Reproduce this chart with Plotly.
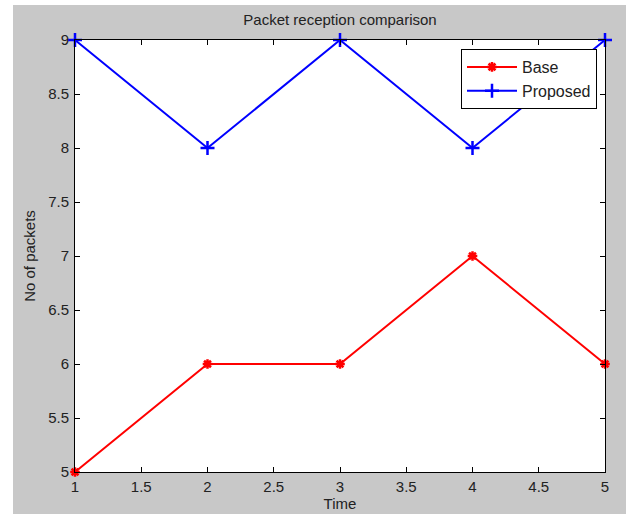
import plotly.graph_objects as go

time = [1, 2, 3, 4, 5]
base = [5, 6, 6, 7, 6]
proposed = [9, 8, 9, 8, 9]
x_ticks = [1, 1.5, 2, 2.5, 3, 3.5, 4, 4.5, 5]
y_ticks = [5, 5.5, 6, 6.5, 7, 7.5, 8, 8.5, 9]

FONT = "Liberation Sans Narrow, Arial Narrow, sans-serif"
GRAY = "#c8c8c8"
TXT = "#222222"

fig = go.Figure()
fig.add_trace(go.Scatter(
    x=time, y=base, name="Base", mode="lines+markers",
    line=dict(color="#ff0000", width=2),
    marker=dict(symbol="asterisk-open", size=8, color="#ff0000",
                line=dict(color="#ff0000", width=2.5)),
    cliponaxis=False,
))
fig.add_trace(go.Scatter(
    x=time, y=proposed, name="Proposed", mode="lines+markers",
    line=dict(color="#0000ff", width=2),
    marker=dict(symbol="cross-thin-open", size=10, color="#0000ff",
                line=dict(color="#0000ff", width=2.5)),
    cliponaxis=False,
))

axis_common = dict(
    showgrid=False, zeroline=False, showline=True, linecolor="black", linewidth=1,
    mirror="ticks", ticks="inside", ticklen=5, tickcolor="black", automargin=False,
    tickfont=dict(family=FONT, size=15, color=TXT),
)

fig.update_layout(
    width=626, height=514,
    margin=dict(l=75, r=21, t=40, b=42),
    paper_bgcolor=GRAY, plot_bgcolor="white",
    title=dict(text="Packet reception comparison", x=(75 + 605) / 2 / 626, xanchor="center",
               y=1 - 20 / 514, yanchor="middle",
               font=dict(family=FONT, size=15, color=TXT)),
    xaxis=dict(range=[1, 5], tickvals=x_ticks, ticklabelstandoff=1,
               title=dict(text="Time", standoff=3, font=dict(family=FONT, size=15, color=TXT)),
               **axis_common),
    yaxis=dict(range=[5, 9], tickvals=y_ticks, ticklabelstandoff=2,
               title=dict(text="No of packets", standoff=8, font=dict(family=FONT, size=15, color=TXT)),
               **axis_common),
    legend=dict(x=(461 - 75) / 530, y=(472 - 49) / 432, xanchor="left", yanchor="top",
                bgcolor="white", bordercolor="black", borderwidth=1,
                font=dict(family=FONT, size=16, color=TXT),
                tracegroupgap=0, itemwidth=50),
    showlegend=True,
    shapes=[
        dict(type="rect", xref="paper", yref="paper", layer="below",
             x0=-75 / 530, x1=(13 - 75) / 530, y0=-42 / 432, y1=472 / 432,
             fillcolor="white", line=dict(width=0)),
        dict(type="rect", xref="paper", yref="paper", layer="below",
             x0=-75 / 530, x1=551 / 530, y0=(472 - 5) / 432, y1=472 / 432,
             fillcolor="white", line=dict(width=0)),
    ],
)

fig.write_html("out.html", config={"displayModeBar": False},
               post_script="document.body.style.margin='0';document.body.style.overflow='hidden';"
                           "document.body.style.background='" + GRAY + "';"
                           "document.documentElement.style.background='" + GRAY + "';")
